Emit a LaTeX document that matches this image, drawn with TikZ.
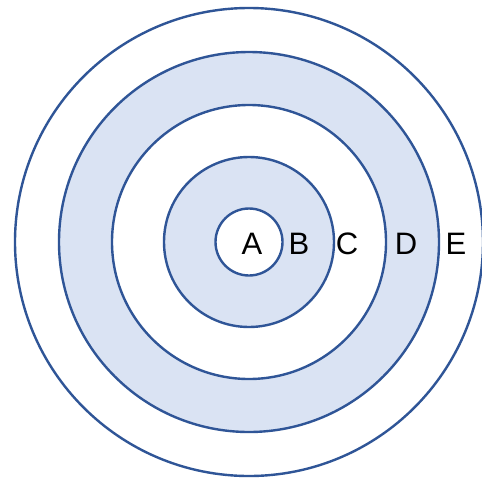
\documentclass[tikz,border=0pt]{standalone}
\usepackage{fontspec}
\setmainfont{Liberation Sans}
\definecolor{ringline}{HTML}{2F5597}
\definecolor{ringfill}{HTML}{DAE3F3}
\begin{document}
\begin{tikzpicture}[x=1pt,y=-1pt,
  ring/.style={draw=ringline,line width=2.4pt},
  lbl/.style={font=\fontsize{31}{36}\selectfont,inner sep=0pt,anchor=center}]
\useasboundingbox (0,0) rectangle (482,480);
\coordinate (o) at (249,242);
\fill[white] (0,0) rectangle (482,480);
\draw[ring,fill=white] (o) circle[radius=234];
\draw[ring,fill=ringfill] (o) circle[radius=190];
\draw[ring,fill=white] (o) circle[radius=137];
\draw[ring,fill=ringfill] (o) circle[radius=85];
\draw[ring,fill=white] (o) circle[radius=33.5];
\node[lbl] (a) at (252,244) {A};
\node[lbl] (b) at (299,244) {B};
\node[lbl] (c) at (347,244) {C};
\node[lbl] (d) at (406,244) {D};
\node[lbl] (e) at (456,244) {E};
\end{tikzpicture}
\end{document}
